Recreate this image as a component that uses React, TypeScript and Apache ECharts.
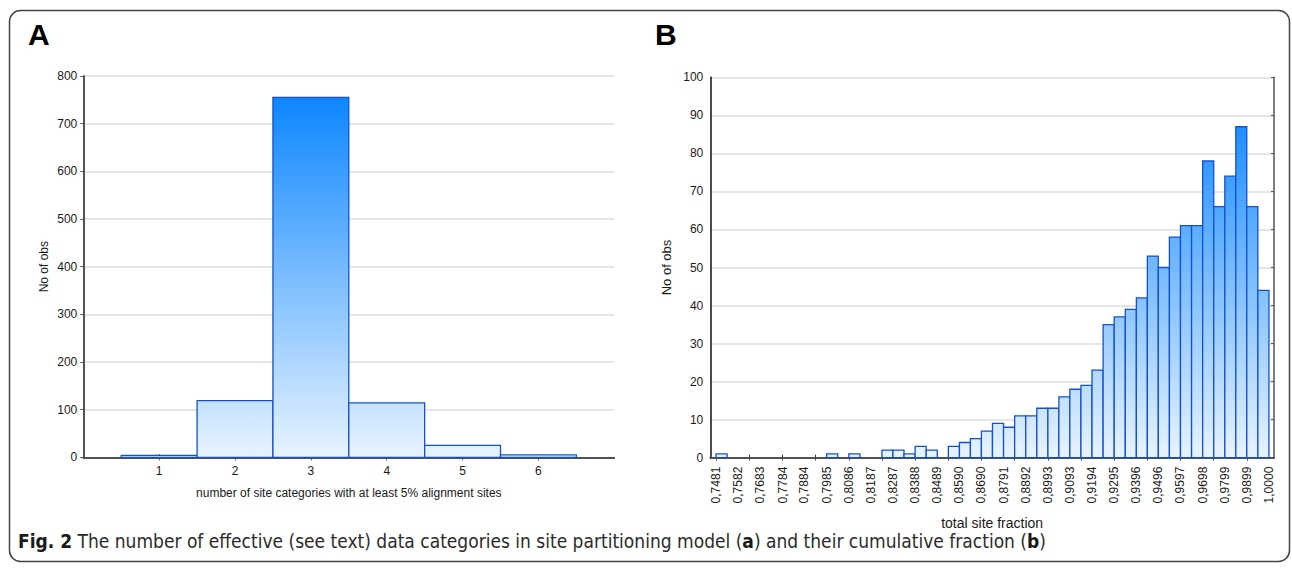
import React, { useEffect, useRef } from "react";
import * as echarts from "echarts";

// ---------- Panel A data ----------
const categoriesA = [1, 2, 3, 4, 5, 6];
const countsA = [4, 119, 755, 114, 25, 5];
const yMaxA = 800;
const yStepA = 100;

// ---------- Panel B data ----------
const tickLabelsB = [
  "0,7481", "0,7582", "0,7683", "0,7784", "0,7884", "0,7985", "0,8086",
  "0,8187", "0,8287", "0,8388", "0,8489", "0,8590", "0,8690", "0,8791",
  "0,8892", "0,8993", "0,9093", "0,9194", "0,9295", "0,9396", "0,9496",
  "0,9597", "0,9698", "0,9799", "0,9899", "1,0000",
];
// two bins between consecutive tick labels
const countsB = [
  1, 0, 0, 0, 0, 0, 0, 0, 0, 0,
  1, 0, 1, 0, 0, 2, 2, 1, 3, 2,
  0, 3, 4, 5, 7, 9, 8, 11, 11, 13,
  13, 16, 18, 19, 23, 35, 37, 39, 42, 53,
  50, 58, 61, 61, 78, 66, 74, 87, 66, 44,
];
const yMaxB = 100;
const yStepB = 10;

const caption =
  "{b|Fig. 2} The number of effective (see text) data categories in site partitioning model ({b|a}) and their cumulative fraction ({b|b})";

const FONT = "'Liberation Sans', Arial, Helvetica, sans-serif";
const NARROW = "'DejaVu Sans Condensed', 'Liberation Sans Narrow', sans-serif";

const tickValuesB = tickLabelsB.map((s) => parseFloat(s.replace(",", ".")));
const edgesB: number[] = [];
tickValuesB.forEach((t, k) => {
  edgesB.push(t);
  if (k < tickValuesB.length - 1) edgesB.push((t + tickValuesB[k + 1]) / 2);
});
const binsB = countsB.map((c, i) => [edgesB[i], edgesB[i + 1], c]);
const minorTicksB = edgesB.filter((_, i) => i % 3 === 0);

const labelForB = (v: number) => {
  let best = 0;
  tickValuesB.forEach((t, i) => {
    if (Math.abs(t - v) < Math.abs(tickValuesB[best] - v)) best = i;
  });
  return tickLabelsB[best];
};

const makeRender = (yMax: number) => (params: any, api: any) => {
  const x0 = api.value(0);
  const x1 = api.value(1);
  const v = api.value(2);
  if (!v) return null;
  const pTop = api.coord([x0, v]);
  const pBot = api.coord([x1, 0]);
  const gTop = api.coord([x0, yMax])[1];
  return {
    type: "rect",
    shape: {
      x: pTop[0],
      y: pTop[1],
      width: pBot[0] - pTop[0],
      height: pBot[1] - pTop[1],
    },
    style: {
      fill: new echarts.graphic.LinearGradient(
        0,
        gTop,
        0,
        pBot[1],
        [
          { offset: 0, color: "#0080ff" },
          { offset: 1, color: "#e8f3ff" },
        ],
        true
      ),
      stroke: "#1450d2",
      lineWidth: 1.3,
    },
  };
};

const labelColor = "#1a1a1a";
const lbl = (size: number) => ({ fontSize: size, color: labelColor, fontFamily: FONT });

export default function App() {
  const ref = useRef<HTMLDivElement>(null);
  useEffect(() => {
    if (!ref.current) return;
    const chart = echarts.init(ref.current, undefined, { renderer: "svg" });
    const mainLine = { lineStyle: { color: "#111", width: 1.5 } };
    const sideLine = { lineStyle: { color: "#555", width: 1.5 } };
    const grid = { color: "#dcdcdc", width: 1.5 };
    chart.setOption({
      animation: false,
      textStyle: { fontFamily: FONT },
      grid: [
        { left: 83.3, top: 76, width: 531, height: 381.3 },
        { left: 710.3, top: 77.3, width: 563.7, height: 380.4 },
      ],
      xAxis: [
        {
          gridIndex: 0,
          type: "value",
          position: "bottom",
          min: 0,
          max: 7,
          interval: 1,
          axisLine: mainLine,
          axisTick: { show: true, inside: true, length: 3, customValues: categoriesA, lineStyle: { color: "#333" } },
          axisLabel: { customValues: categoriesA, margin: 8, ...lbl(12) },
          splitLine: { show: false },
          name: "number of site categories with at least 5% alignment sites",
          nameLocation: "middle",
          nameGap: 30,
          nameTextStyle: lbl(12),
        },
        {
          gridIndex: 0,
          type: "value",
          position: "top",
          min: 0,
          max: 7,
          interval: 1,
          axisLine: sideLine,
          axisTick: { show: true, inside: true, length: 3, customValues: categoriesA, lineStyle: { color: "#555" } },
          axisLabel: { show: false },
          splitLine: { show: false },
        },
        {
          gridIndex: 1,
          type: "value",
          position: "bottom",
          min: 0.7455,
          max: 1.0023,
          axisLine: mainLine,
          axisTick: { show: true, inside: true, length: 3, customValues: minorTicksB, lineStyle: { color: "#333" } },
          axisLabel: {
            customValues: tickValuesB,
            rotate: 90,
            margin: 9,
            ...lbl(12),
            formatter: (v: number) => labelForB(v),
          },
          splitLine: { show: false },
          name: "total site fraction",
          nameLocation: "middle",
          nameGap: 58,
          nameTextStyle: lbl(14),
        },
        {
          gridIndex: 1,
          type: "value",
          position: "top",
          min: 0.7455,
          max: 1.0023,
          axisLine: sideLine,
          axisTick: { show: true, inside: true, length: 3, customValues: minorTicksB, lineStyle: { color: "#555" } },
          axisLabel: { show: false },
          splitLine: { show: false },
        },
      ],
      yAxis: [
        {
          gridIndex: 0,
          type: "value",
          position: "left",
          min: 0,
          max: yMaxA,
          interval: yStepA,
          axisLine: { show: true, ...mainLine },
          axisTick: { show: false },
          axisLabel: { margin: 6, ...lbl(12) },
          splitLine: { show: true, lineStyle: grid },
          name: "No of obs",
          nameLocation: "middle",
          nameGap: 33,
          nameTextStyle: lbl(12),
        },
        {
          gridIndex: 0,
          type: "value",
          position: "right",
          min: 0,
          max: yMaxA,
          interval: yStepA,
          axisLine: { show: true, ...sideLine },
          axisTick: { show: true, inside: true, length: 3, lineStyle: { color: "#555" } },
          axisLabel: { show: false },
          splitLine: { show: false },
        },
        {
          gridIndex: 1,
          type: "value",
          position: "left",
          min: 0,
          max: yMaxB,
          interval: yStepB,
          axisLine: { show: true, ...mainLine },
          axisTick: { show: false },
          axisLabel: { margin: 7, ...lbl(12) },
          splitLine: { show: true, lineStyle: grid },
          name: "No of obs",
          nameLocation: "middle",
          nameGap: 37,
          nameTextStyle: lbl(13),
        },
        {
          gridIndex: 1,
          type: "value",
          position: "right",
          min: 0,
          max: yMaxB,
          interval: yStepB,
          axisLine: { show: true, ...sideLine },
          axisTick: { show: true, inside: true, length: 3, lineStyle: { color: "#555" } },
          axisLabel: { show: false },
          splitLine: { show: false },
        },
      ],
      series: [
        {
          type: "custom",
          name: "A",
          xAxisIndex: 0,
          yAxisIndex: 0,
          clip: false,
          encode: { x: [0, 1], y: 2 },
          renderItem: makeRender(yMaxA),
          data: categoriesA.map((c, i) => [c - 0.5, c + 0.5, countsA[i]]),
        },
        {
          type: "custom",
          name: "B",
          xAxisIndex: 2,
          yAxisIndex: 2,
          clip: false,
          encode: { x: [0, 1], y: 2 },
          renderItem: makeRender(yMaxB),
          data: binsB,
        },
      ],
      graphic: [
        {
          type: "rect",
          shape: { x: 9.5, y: 10.5, width: 1280, height: 551, r: 11 },
          style: { fill: "none", stroke: "#444", lineWidth: 1.5 },
          silent: true,
        },
        {
          type: "text",
          left: 28,
          top: 19,
          style: { text: "A", fontSize: 30, fontWeight: "bold", fontFamily: FONT, fill: "#000" },
        },
        {
          type: "text",
          left: 655,
          top: 19,
          style: { text: "B", fontSize: 30, fontWeight: "bold", fontFamily: FONT, fill: "#000" },
        },
        {
          type: "text",
          x: 18,
          y: 541,
          style: {
            text: caption,
            fontSize: 19,
            fontFamily: NARROW,
            fill: "#2b2b2b",
            verticalAlign: "middle",
            rich: {
              b: { fontSize: 19, fontWeight: "bold", fontFamily: NARROW, fill: "#1a1a1a" },
            },
          },
        },
      ],
    });
    return () => chart.dispose();
  }, []);
  return (
    <div
      ref={ref}
      style={{ position: "absolute", left: 0, top: 0, width: 1292, height: 569, background: "#fff" }}
    />
  );
}
